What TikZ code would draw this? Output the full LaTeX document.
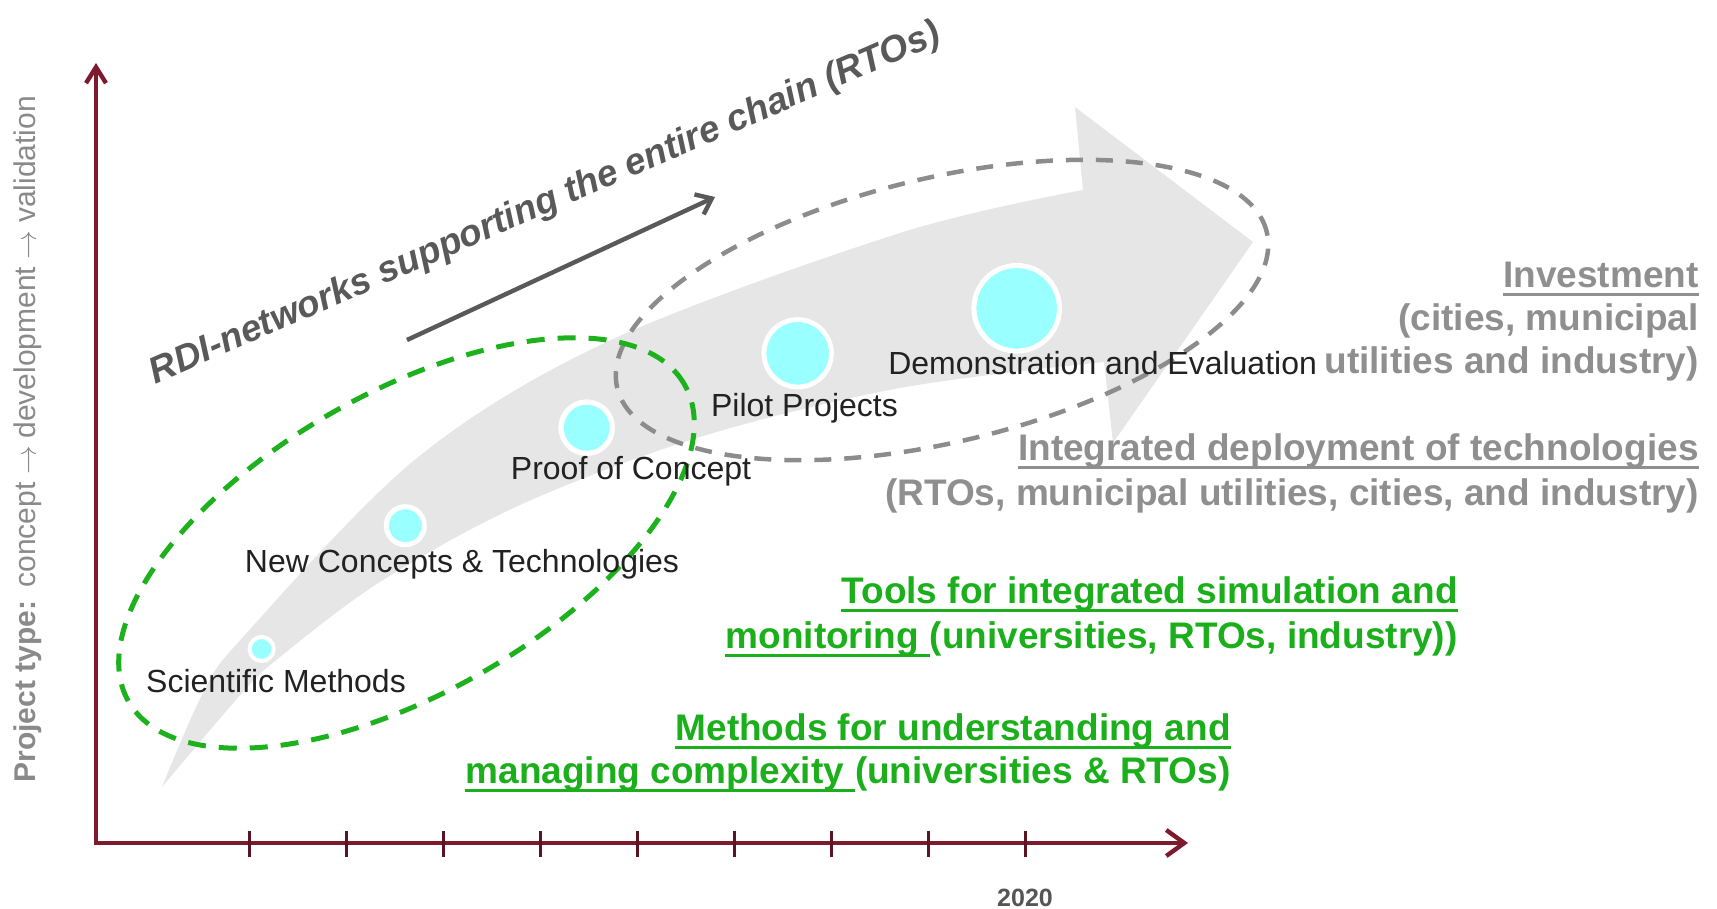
\documentclass[tikz,border=0pt]{standalone}
\usepackage{fontspec}
\setmainfont{Liberation Sans}
\usetikzlibrary{arrows.meta}
\definecolor{axisred}{HTML}{7D1A2E}
\definecolor{tickred}{HTML}{5A1422}
\definecolor{arrowfill}{HTML}{E6E6E6}
\definecolor{cyanfill}{HTML}{99FFFF}
\definecolor{txtdark}{HTML}{222222}
\definecolor{grtxt}{HTML}{8F8F8F}
\definecolor{greentxt}{HTML}{1BAF1B}
\definecolor{greendash}{HTML}{1DB21D}
\definecolor{graydash}{HTML}{8C8C8C}
\definecolor{rdigray}{HTML}{595959}
\definecolor{labgray}{HTML}{8A8A8A}
\definecolor{yeargray}{HTML}{555555}
\tikzset{
  axisline/.style={draw=axisred, line width=2.2pt, line join=miter},
  tickline/.style={draw=tickred, line width=1.5pt},
  dot/.style={circle, fill=cyanfill, draw=white, inner sep=0pt, outer sep=0pt},
  stagelabel/.style={inner sep=0pt, text=txtdark, font=\fontsize{16pt}{19pt}\selectfont, anchor=base},
  graytext/.style={inner sep=0pt, text=grtxt, font=\fontsize{18.5pt}{22pt}\selectfont\bfseries, anchor=base east},
  greentext/.style={inner sep=0pt, text=greentxt, font=\fontsize{18.5pt}{22pt}\selectfont\bfseries, anchor=base east},
  ulgray/.style={draw=grtxt, line width=1.5pt},
  ulgreen/.style={draw=greentxt, line width=1.5pt},
  greenell/.style={draw=greendash, line width=2.5pt, dash pattern=on 9pt off 6.5pt},
  grayell/.style={draw=graydash, line width=2.25pt, dash pattern=on 8.5pt off 6.5pt},
  rdiarrow/.style={draw=rdigray, line width=2.2pt, -{Straight Barb[length=7pt,width=11pt]}},
  rditext/.style={inner sep=0pt, text=rdigray, font=\fontsize{18.5pt}{22pt}\selectfont\bfseries\itshape, anchor=base, rotate=23.5},
  ptlabel/.style={inner sep=0pt, text=labgray, font=\fontsize{15pt}{18pt}\selectfont, rotate=90, anchor=west},
  yeartext/.style={inner sep=0pt, text=yeargray, font=\fontsize{12.5pt}{15pt}\selectfont\bfseries},
}
\newcommand{\ptarrow}{\hspace{0.25em}$\rightarrow$\hspace{0.25em}}
\begin{document}
\begin{tikzpicture}[x=0.5pt,y=-0.5pt]
\useasboundingbox (0,0) rectangle (1717,909);

% big curved arrow
\fill[arrowfill] plot[smooth,tension=0.55] coordinates {(162,787) (203,693) (243,637) (417,458) (611,340) (900,233) (1083,190)}
  -- (1075,107) -- (1253,242) -- (1113,443) -- (1104,362)
  -- plot[smooth,tension=0.55] coordinates {(1104,362) (900,388) (700,437) (520,505) (380,582) (280,657) (243,692) (162,787)} -- cycle;

% dashed groupings
\draw[grayell, rotate around={13.5:(942,310)}] (942,310) ellipse [x radius=167pt, y radius=66pt];
\draw[greenell, rotate around={29.7:(406.5,543)}] (406.5,543) ellipse [x radius=160pt, y radius=75pt];

% stage dots
\node[dot, minimum size=12pt, line width=2pt] (d1) at (261.6,649) {};
\node[dot, minimum size=19pt, line width=2.5pt] (d2) at (405.3,525.7) {};
\node[dot, minimum size=25.7pt, line width=2.6pt] (d3) at (586.7,427.7) {};
\node[dot, minimum size=33.7pt, line width=2.4pt] (d4) at (797.7,353.3) {};
\node[dot, minimum size=42.8pt, line width=2.5pt] (d5) at (1016.7,308.3) {};

% stage labels
\node[stagelabel] (l1) at (276,692) {Scientific Methods};
\node[stagelabel] (l2) at (462,572) {New Concepts \& Technologies};
\node[stagelabel] (l3) at (631,479) {Proof of Concept};
\node[stagelabel] (l4) at (804.5,416) {Pilot Projects};
\node[stagelabel] (l5) at (1102.6,374) {Demonstration and Evaluation};

% RDI arrow and text
\coordinate (rdiS) at (407,340);
\coordinate (rdiE) at (715,197);
\draw[rdiarrow] (rdiS) -- (rdiE);
\node[rditext] (rdi) at (549,213) {RDI-networks supporting the entire chain (RTOs)};

% gray right texts
\node[graytext] (inv1) at (1699,287) {Investment};
\node[graytext] (inv2) at (1699,330) {(cities, municipal};
\node[graytext] (inv3) at (1699,373) {utilities and industry)};
\node[graytext] (int1) at (1699,460) {Integrated deployment of technologies};
\node[graytext] (int2) at (1699,505) {(RTOs, municipal utilities, cities, and industry)};
\draw[ulgray] ([yshift=-3.5pt]inv1.base west) -- ([yshift=-3.5pt]inv1.base east);
\draw[ulgray] ([yshift=-3.5pt]int1.base west) -- ([yshift=-3.5pt]int1.base east);

% green texts
\node[greentext] (tools1) at (1458,603) {Tools for integrated simulation and};
\node[greentext] (tools2b) at (1458,648) {(universities, RTOs, industry))};
\node[greentext] (tools2a) at (tools2b.base west) {monitoring\ \null};
\draw[ulgreen] ([yshift=-3.5pt]tools1.base west) -- ([yshift=-3.5pt]tools1.base east);
\draw[ulgreen] ([yshift=-3.5pt]tools2a.base west) -- ([yshift=-3.5pt]tools2a.base east);

\node[greentext] (meth1) at (1231,740) {Methods for understanding and};
\node[greentext] (meth2b) at (1231,783) {(universities \& RTOs)};
\node[greentext] (meth2a) at (meth2b.base west) {managing complexity\ \null};
\draw[ulgreen] ([yshift=-3.5pt]meth1.base west) -- ([yshift=-3.5pt]meth1.base east);
\draw[ulgreen] ([yshift=-3.5pt]meth2a.base west) -- ([yshift=-3.5pt]meth2a.base east);

% axes
\coordinate (O) at (96,843);
\coordinate (ytop) at (96,63);
\coordinate (xend) at (1188,843);
\draw[axisline, {Straight Barb[length=8pt,width=10pt]}-{Straight Barb[length=9pt,width=13pt]}] (ytop) -- (O) -- (xend);
\foreach \i in {0,...,8} \draw[tickline] ({249+97*\i},831) -- ({249+97*\i},857);
\node[yeartext] (yr) at (1025,898) {2020};

% y-axis label
\node[ptlabel] (pt) at (28,783) {\textbf{Project type:}\hspace{0.45em}concept\ptarrow development\ptarrow validation};
\end{tikzpicture}
\end{document}
